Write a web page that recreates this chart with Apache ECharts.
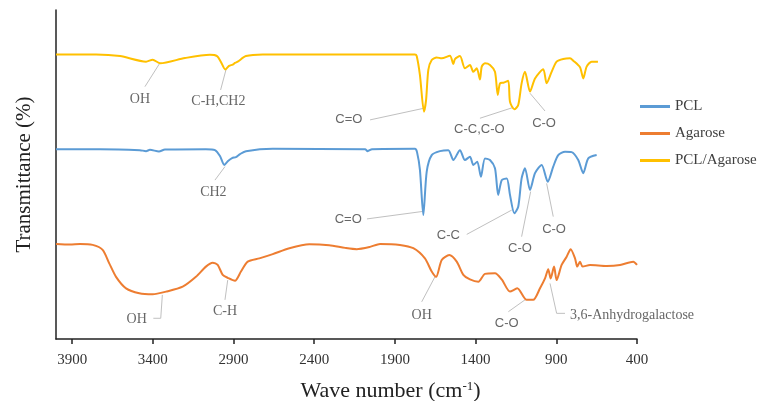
<!DOCTYPE html>
<html>
<head>
<meta charset="utf-8">
<title>FTIR spectra</title>
<script src="https://cdn.jsdelivr.net/npm/echarts@6/dist/echarts.min.js"></script>
<style>
  html, body { margin: 0; padding: 0; background: #fff; }
  #chart { width: 762px; height: 401px; }
</style>
</head>
<body>
<div id="chart"></div>
<script>
// Wave number ticks (cm-1)
var tickValues = [400, 900, 1400, 1900, 2400, 2900, 3400, 3900];

// Spectra as [wave number, transmittance (offset, a.u.)]
var pclAgarose = [
  [4000, 86.5], [3752, 86.5], [3603, 86.0], [3442, 84.3], [3401, 84.9], [3354, 83.8],
  [3201, 85.4], [3046, 86.4], [3002, 86.0], [2978, 84.2], [2951, 81.9], [2928, 83.0],
  [2905, 83.4], [2891, 83.9], [2874, 84.3], [2823, 86.0], [2719, 86.5], [2488, 86.5],
  [1776, 86.5], [1765, 86.0], [1745, 80.2], [1720, 69.1], [1707, 72.6], [1693, 81.8],
  [1672, 84.8], [1641, 85.6], [1610, 85.3], [1559, 86.1], [1538, 83.6], [1528, 85.1],
  [1497, 86.0], [1466, 82.3], [1435, 83.3], [1414, 81.2], [1393, 82.3], [1373, 78.9],
  [1362, 82.8], [1342, 83.8], [1311, 83.3], [1280, 81.2], [1263, 74.2], [1249, 77.7],
  [1228, 77.9], [1198, 78.5], [1187, 72.1], [1160, 69.8], [1136, 71.1], [1115, 77.7],
  [1094, 81.2], [1063, 75.2], [1032, 79.2], [981, 82.0], [960, 77.7], [929, 81.2],
  [898, 84.3], [857, 85.1], [815, 85.3], [795, 84.6], [753, 82.6], [733, 79.2],
  [712, 82.8], [681, 84.3], [642, 84.3]
];

var pcl = [
  [4000, 57.7], [3727, 57.7], [3480, 57.4], [3442, 57.1], [3418, 57.5], [3362, 57.0],
  [3325, 57.6], [3071, 57.7], [3015, 57.4], [2984, 55.6], [2957, 52.9], [2934, 54.1],
  [2909, 55.0], [2885, 55.3], [2860, 56.2], [2823, 57.1], [2657, 57.8], [2085, 57.7],
  [2069, 57.1], [2042, 57.7], [1776, 57.8], [1763, 56.8], [1745, 51.4], [1724, 37.7],
  [1703, 50.9], [1672, 55.9], [1621, 57.1], [1569, 57.4], [1538, 54.4], [1497, 57.4],
  [1466, 54.4], [1435, 55.4], [1414, 52.9], [1390, 53.9], [1367, 49.3], [1342, 54.9],
  [1311, 54.4], [1280, 51.9], [1260, 43.8], [1238, 48.3], [1207, 48.8], [1187, 43.8],
  [1160, 38.2], [1136, 40.2], [1115, 48.8], [1094, 51.9], [1063, 45.3], [1032, 50.4],
  [991, 52.9], [953, 47.8], [919, 52.4], [888, 55.9], [846, 56.9], [805, 56.8],
  [764, 54.4], [733, 50.4], [702, 54.9], [650, 55.9]
];

var agarose = [
  [4000, 28.9], [3913, 28.7], [3851, 28.9], [3773, 28.6], [3711, 27.1], [3670, 23.0],
  [3628, 18.9], [3566, 15.4], [3484, 13.9], [3401, 13.6], [3318, 14.4], [3215, 15.9],
  [3133, 18.9], [3071, 22.0], [3029, 23.2], [2998, 22.5], [2967, 19.5], [2936, 18.6],
  [2891, 17.7], [2854, 20.5], [2812, 23.5], [2740, 24.5], [2657, 25.8], [2554, 27.6],
  [2430, 28.8], [2307, 28.5], [2209, 27.7], [2137, 27.3], [2054, 28.0], [1992, 28.9],
  [1869, 28.6], [1786, 27.6], [1714, 24.5], [1672, 20.5], [1645, 18.9], [1610, 24.0],
  [1563, 25.5], [1517, 23.5], [1476, 19.5], [1435, 18.1], [1383, 17.4], [1342, 19.8],
  [1280, 20.0], [1238, 18.1], [1187, 14.4], [1142, 15.4], [1084, 11.9], [1043, 11.9],
  [1001, 15.4], [970, 18.4], [950, 21.2], [935, 18.4], [914, 22.0], [898, 17.9],
  [867, 22.5], [836, 25.0], [811, 27.3], [784, 24.5], [770, 22.0], [753, 23.5],
  [737, 22.0], [691, 22.5], [588, 22.2], [505, 22.5], [423, 23.5], [400, 22.5]
];

// Band labels: text, label anchor, leader line points (all in data units)
var bandLabels = [
  { text: 'OH', at: [3480, 72.9], line: [[3356, 83.9], [3449, 76.7]] },
  { text: 'C-H,CH2', at: [2994, 72.1], line: [[2947, 81.8], [2980, 75.7]] },
  { text: 'C=O', at: [2185, 66.8], line: [[1724, 70.1], [2054, 66.6]], sans: true },
  { text: 'C-C,C-O', at: [1377, 63.7], line: [[1166, 70.4], [1373, 67.1]], sans: true },
  { text: 'C-O', at: [976, 65.6], line: [[1063, 74.7], [970, 69.3]], sans: true },
  { text: 'CH2', at: [3025, 44.5], line: [[2953, 52.4], [3015, 48.3]] },
  { text: 'C=O', at: [2189, 36.2], line: [[1724, 38.8], [2073, 36.5]], sans: true },
  { text: 'C-C', at: [1569, 31.6], line: [[1176, 39.2], [1455, 31.8]], sans: true },
  { text: 'C-O', at: [1125, 27.6], line: [[1059, 44.8], [1115, 31.1]], sans: true },
  { text: 'C-O', at: [914, 33.3], line: [[960, 47.3], [919, 37.2]], sans: true },
  { text: 'OH', at: [3500, 6.0], line: [[3341, 13.4], [3351, 6.3], [3397, 6.3]] },
  { text: 'C-H', at: [2953, 8.3], line: [[2936, 17.9], [2953, 11.9]] },
  { text: 'OH', at: [1734, 7.3], line: [[1652, 18.9], [1734, 11.3]] },
  { text: 'C-O', at: [1207, 4.6], line: [[1094, 11.9], [1197, 8.3]], sans: true },
  { text: '3,6-Anhydrogalactose', at: [815, 7.3], line: [[939, 16.9], [898, 7.8], [846, 7.8]], left: true }
];

var SERIF = '"Liberation Serif", "Times New Roman", serif';
var SANS = '"Liberation Sans", Arial, sans-serif';

var chart = echarts.init(document.getElementById('chart'), null, { renderer: 'canvas' });

function spectrum(name, data, color) {
  return {
    name: name,
    type: 'line',
    data: data,
    showSymbol: false,
    smooth: 0.25,
    lineStyle: { color: color, width: 2 },
    itemStyle: { color: color },
    z: 3
  };
}

var option = {
  backgroundColor: '#ffffff',
  animation: false,
  grid: { left: 56, right: 125, top: 10, bottom: 62, outerBoundsMode: 'none' },
  legend: {
    orient: 'vertical',
    left: 635,
    top: 94,
    data: ['PCL', 'Agarose', 'PCL/Agarose'],
    icon: 'rect',
    itemWidth: 30,
    itemHeight: 3,
    itemGap: 12,
    textStyle: { fontFamily: SERIF, fontSize: 15, color: '#404040' }
  },
  xAxis: {
    type: 'value',
    inverse: true,
    min: 400,
    max: 4000,
    name: 'Wave number (cm{sup|-1})',
    nameLocation: 'middle',
    nameGap: 41,
    nameTextStyle: {
      fontFamily: SERIF, fontSize: 22, color: '#222',
      padding: [0, 0, 0, 88],
      rich: { sup: { fontFamily: SERIF, fontSize: 13, color: '#222', padding: [0, 0, 10, 0] } }
    },
    axisLine: { lineStyle: { color: '#222', width: 1.5 } },
    axisTick: { show: true, length: 5, customValues: tickValues, lineStyle: { color: '#222', width: 1.5 } },
    axisLabel: {
      customValues: tickValues,
      formatter: function (v) { return String(v); },
      fontFamily: SERIF, fontSize: 15, color: '#333', margin: 14
    },
    splitLine: { show: false }
  },
  yAxis: {
    type: 'value',
    min: 0,
    max: 100,
    name: 'Transmittance (%)',
    nameLocation: 'middle',
    nameGap: 21,
    nameTextStyle: { fontFamily: SERIF, fontSize: 21, color: '#222' },
    axisLine: { show: true, lineStyle: { color: '#222', width: 1.5 } },
    axisTick: { show: false },
    axisLabel: { show: false },
    splitLine: { show: false }
  },
  series: [
    spectrum('PCL', pcl, '#5B9BD5'),
    spectrum('Agarose', agarose, '#ED7D31'),
    spectrum('PCL/Agarose', pclAgarose, '#FFC000'),
    {
      name: 'leaders',
      type: 'lines',
      coordinateSystem: 'cartesian2d',
      polyline: true,
      silent: true,
      lineStyle: { color: '#c0c0c0', width: 1, opacity: 1 },
      data: bandLabels.map(function (b) { return { coords: b.line }; }),
      z: 2
    },
    {
      name: 'band labels',
      type: 'scatter',
      symbolSize: 1,
      silent: true,
      itemStyle: { color: 'transparent' },
      data: bandLabels.map(function (b) {
        return {
          name: b.text,
          value: b.at,
          label: {
            align: b.left ? 'left' : 'center',
            fontFamily: b.sans ? SANS : SERIF,
            fontSize: b.sans ? 13 : 14
          }
        };
      }),
      label: {
        show: true,
        position: 'inside',
        formatter: '{b}',
        color: '#404040',
        verticalAlign: 'middle'
      },
      z: 4
    }
  ]
};

chart.setOption(option);
window.addEventListener('resize', function () { chart.resize(); });
</script>
</body>
</html>
